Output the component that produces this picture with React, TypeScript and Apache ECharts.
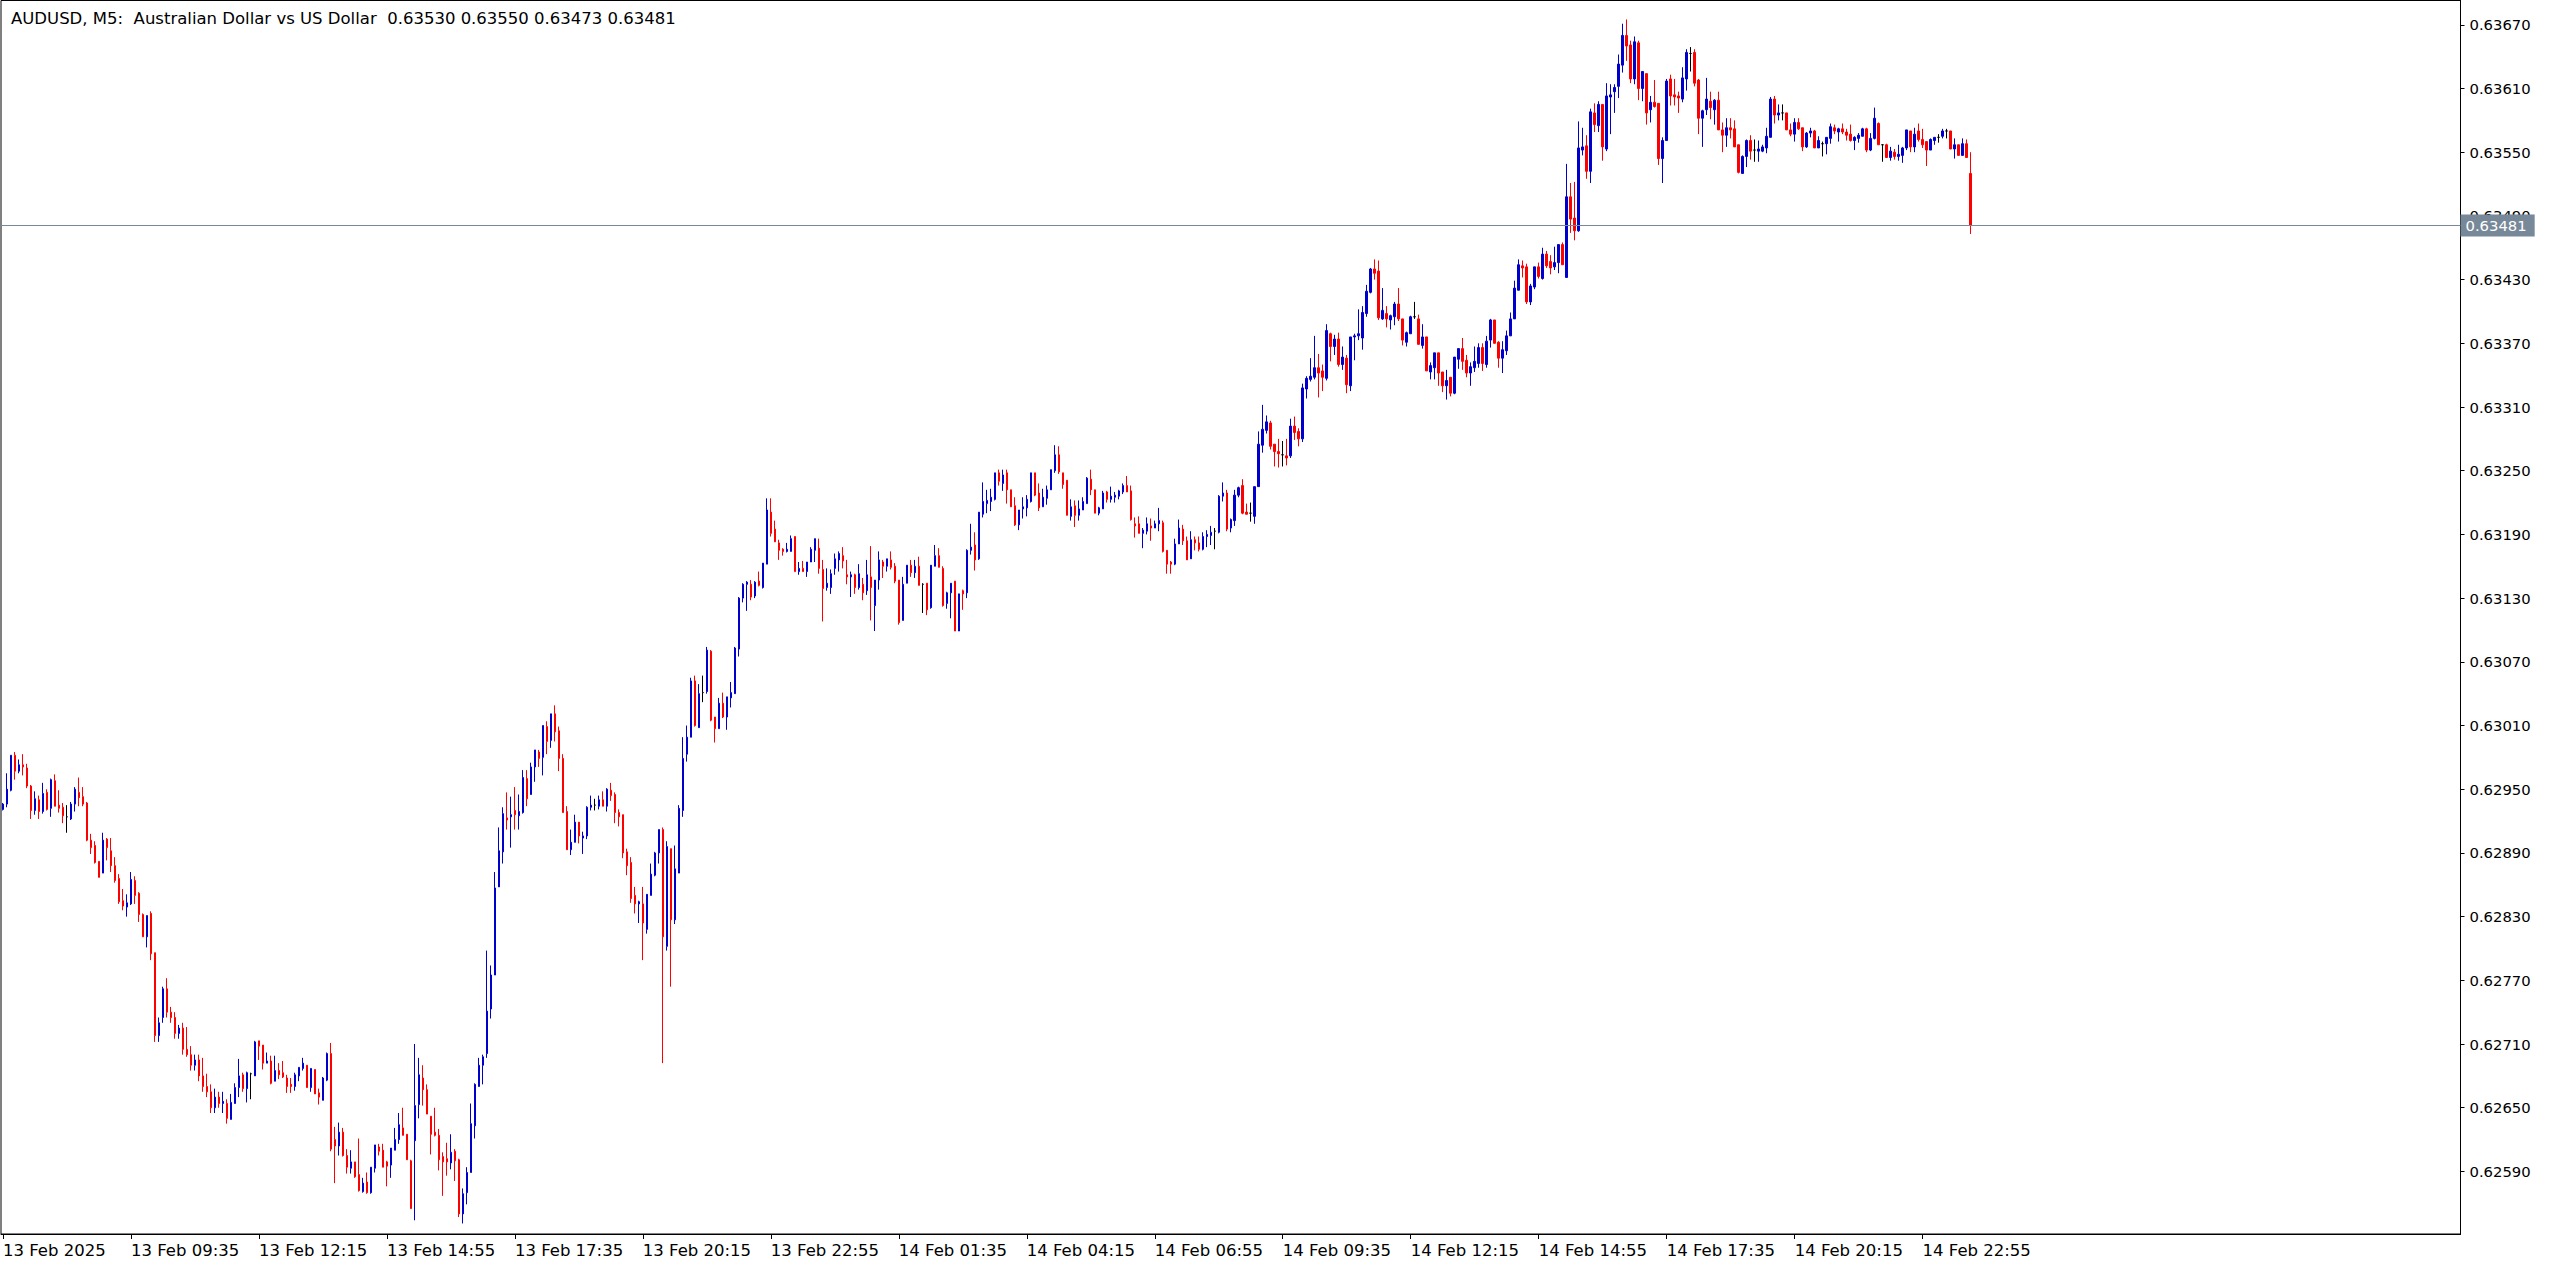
import React, { useEffect, useRef } from "react";
import * as echarts from "echarts";

// ---------- DATA ----------
const symbol = "AUDUSD";
const timeframe = "M5";
const description = "Australian Dollar vs US Dollar";
const POINT = 0.00001; // prices below are stored in points (1e-5)

const openPts = [
62931,62936,62949,62982,62967,62973,62970,62953,62930,62940,
62929,62947,62932,62958,62935,62933,62924,62922,62936,62947,
62943,62937,62902,62897,62882,62871,62903,62892,62878,62866,
62845,62839,62842,62864,62852,62832,62811,62833,
62796,62718,62735,62762,62740,62735,62720,62725,62705,62700,62690,62695,62680,62670,62665,62650,62660,
62654,62654,62639,62654,62669,
62681,62668,62682,62680,62713,62709,62692,62694,62675,62685,
62683,62678,62672,62670,62680,62687,62690,62669,62686,62664,
62657,62676,62701,62620,62614,62627,62605,62593,62599,62587,
62571,62580,62570,62593,62613,62610,62599,62596,62610,62620,
62631,62625,62600,62619,62653,62678,62667,62642,62627,62624,
62604,62602,
62598,62609,62601,62550,62570,62589,62633,62670,
62690,62701,62743,62775,62858,62891,62923,62924,62930,62925,
62928,62960,62945,62971,62985,62980,63009,62996,63021,63005,
62979,62929,62893,62900,62919,62904,62906,62933,62935,62934,
62940,62934,62949,62945,62928,62926,62891,62881,62850,62842,
62842,62818,62850,62869,62890,62912,62802,
62894,62827,62871,
62930,62983,62999,63052,63008,63041,63042,63080,63018,63007,
63031,63018,63036,63040,63082,63130,63143,63143,63132,63146,
63140,63162,63211,63195,63182,63176,63174,63174,63188,63155,
63158,63155,63164,63175,63177,63157,63140,63140,63158,63166,
63170,63152,63150,63152,63140,63143,63137,63150,63123,63147,
63164,63160,
63166,63160,63147,63109,63144,63161,63154,63160,
63143,63144,63121,63160,63170,63158,63125,63135,63146,63099,
63137,63135,63175,63180,63167,63209,63219,63221,63223,63248,
63238,63248,63232,63217,63199,63214,63215,63221,63248,63229,
63216,63224,63232,63250,63265,63248,63241,63207,63217,63208,
63213,63219,63242,63232,63210,63214,63230,
63223,63225,63226,
63230,63236,63231,63200,63200,63191,63193,63198,63196,63200,
63201,63175,63164,63162,63181,63195,63184,63167,63185,63182,
63176,63188,63189,63193,63192,63226,63229,63196,63203,63227,
63236,63211,63210,63207,63235,63274,63288,63295,63275,63268,
63265,63264,63264,63292,63287,63280,63327,63336,63338,63347,
63344,63337,
63379,63367,63374,63350,63356,63330,63376,63377,
63375,63398,63418,63440,63438,63393,63398,63392,63395,63407,
63393,63371,63379,63395,63393,63368,63376,63343,63347,63361,
63343,63330,63338,63323,63355,63365,63354,63342,63347,63351,
63366,63350,63373,63392,63371,63356,63363,63377,63393,63420,
63443,63442,63409,63423,63442,63431,63454,
63447,63442,63446,
63463,63432,63508,63488,63476,63552,63556,63532,63587,63575,
63595,63553,63602,63607,63612,63632,63660,63651,63619,63653,
63610,63624,63590,63597,63596,63544,63561,63619,63604,63603,
63600,63619,63643,63644,63618,63582,63590,63598,63590,63599,
63571,63566,63573,63572,63557,63530,63546,63561,63552,63551,
63551,63554,
63564,63600,63585,63587,63587,63571,63567,63578,
63573,63555,63568,63570,63554,63558,63558,63563,63573,63569,
63572,63569,63567,63561,63563,63565,63572,63552,63563,63577,
63557,63557,63545,63550,63546,63547,63554,63570,63555,63570,
63562,63560,63552,63561,63564,63565,63570,63570,63553,63557,
63547,63558,63530
];

const highPts = [
62937,62965,62982,62985,62978,62983,62974,62954,62948,62944,
62956,62950,62960,62964,62949,62937,62935,62938,62952,62961,
62952,62938,62908,62901,62882,62909,62904,62904,62886,62870,
62856,62851,62872,62868,62853,62833,62831,62835,
62796,62735,62764,62772,62745,62740,62728,62730,62726,62708,62700,62700,62697,62682,62672,62668,62665,
62665,62658,62663,62673,62696,
62683,62684,62683,62713,62713,62709,62702,62699,62699,62692,
62694,62681,62678,62683,62688,62697,62690,62687,62686,62668,
62679,62702,62711,62632,62636,62631,62611,62610,62599,62621,
62584,62589,62594,62615,62616,62616,62600,62612,62631,62645,
62650,62625,62601,62710,62697,62690,62672,62642,62650,62630,
62608,62617,
62625,62611,62602,62574,62594,62654,62673,62697,
62700,62798,62784,62872,62914,62933,62947,62943,62952,62945,
62968,62968,62975,62987,62987,63010,63014,63021,63029,63009,
62983,62934,62912,62926,62919,62910,62934,62944,62941,62944,
62948,62951,62956,62947,62931,62926,62894,62886,62858,62845,
62858,62851,62880,62891,62912,62914,62901,
62894,62897,62935,
62999,63010,63055,63057,63049,63057,63084,63081,63018,63036,
63041,63037,63051,63084,63131,63144,63146,63147,63146,63155,
63163,63224,63224,63203,63185,63177,63182,63189,63188,63164,
63165,63164,63178,63186,63186,63166,63158,63157,63172,63174,
63178,63166,63155,63153,63162,63149,63166,63179,63147,63174,
63166,63167,
63174,63163,63147,63150,63161,63166,63166,63169,
63144,63144,63161,63180,63177,63160,63136,63144,63146,63134,
63138,63176,63200,63192,63211,63239,63232,63233,63248,63251,
63251,63251,63232,63225,63213,63225,63227,63248,63248,63238,
63233,63236,63251,63274,63273,63248,63241,63223,63222,63222,
63225,63244,63251,63232,63216,63231,63231,
63235,63230,63232,
63238,63245,63236,63206,63207,63196,63206,63205,63203,63215,
63203,63175,63165,63186,63204,63199,63188,63193,63188,63188,
63192,63194,63198,63196,63227,63239,63232,63205,63232,63235,
63242,63219,63220,63235,63287,63312,63302,63297,63275,63280,
63278,63280,63299,63301,63290,63332,63339,63356,63377,63360,
63350,63388,
63380,63378,63380,63367,63359,63376,63379,63402,
63405,63425,63441,63449,63448,63422,63405,63397,63409,63422,
63393,63381,63396,63409,63397,63388,63376,63352,63361,63361,
63343,63345,63338,63357,63365,63375,63359,63352,63367,63370,
63370,63377,63393,63392,63372,63372,63382,63399,63429,63449,
63448,63445,63426,63442,63446,63460,63457,
63453,63461,63463,
63465,63539,63521,63522,63579,63573,63566,63591,63596,63598,
63595,63615,63614,63614,63642,63671,63675,63655,63659,63655,
63626,63624,63603,63618,63596,63564,63619,63623,63619,63607,
63630,63647,63649,63647,63619,63590,63620,63607,63600,63607,
63578,63582,63582,63580,63557,63547,63562,63566,63562,63561,
63557,63573,
63602,63603,63595,63595,63587,63577,63582,63582,
63573,63569,63573,63571,63565,63560,63564,63577,63576,63573,
63577,63572,63576,63565,63568,63573,63573,63568,63592,63578,
63557,63558,63555,63553,63557,63555,63571,63570,63573,63577,
63572,63560,63563,63564,63567,63572,63572,63570,63563,63557,
63563,63562,63550
];

const lowPts = [
62930,62933,62948,62959,62965,62963,62951,62922,62926,62922,
62927,62930,62924,62934,62928,62918,62909,62921,62929,62934,
62934,62901,62889,62880,62867,62871,62883,62872,62862,62842,
62836,62830,62841,62842,62825,62811,62801,62789,
62712,62712,62730,62735,62730,62715,62715,62700,62698,62685,62685,62675,62665,62660,62645,62645,62650,
62645,62635,62639,62654,62660,
62665,62655,62658,62680,62695,62686,62692,62672,62675,62677,
62678,62664,62664,62666,62675,62685,62669,62665,62663,62653,
62657,62675,62609,62579,62605,62604,62588,62588,62584,62571,
62570,62569,62569,62589,62605,62594,62576,62584,62610,62616,
62624,62601,62555,62544,62640,62652,62644,62606,62623,62591,
62567,62586,
62592,62581,62547,62541,62559,62589,62621,62670,
62672,62697,62734,62775,62858,62880,62912,62895,62912,62912,
62927,62934,62945,62957,62971,62963,62983,62989,62995,62967,
62928,62893,62888,62900,62899,62889,62903,62930,62930,62931,
62934,62929,62939,62918,62915,62885,62869,62843,62833,62824,
62789,62814,62850,62868,62880,62692,62798,
62764,62823,62871,
62924,62976,62999,63009,63008,63032,63040,63014,62994,63007,
63017,63006,63027,63040,63075,63126,63118,63128,63130,63141,
63139,63162,63188,63183,63166,63170,63173,63174,63155,63152,
63155,63150,63164,63164,63153,63108,63137,63134,63152,63155,
63158,63143,63131,63134,63138,63128,63133,63109,63099,63138,
63149,63155,
63157,63144,63105,63109,63144,63150,63149,63142,
63116,63114,63120,63160,63159,63122,63120,63111,63099,63099,
63119,63130,63171,63156,63166,63206,63210,63212,63222,63236,
63231,63219,63216,63198,63194,63205,63207,63220,63226,63212,
63216,63218,63232,63248,63247,63233,63208,63203,63197,63203,
63213,63219,63227,63210,63208,63214,63220,
63220,63220,63223,
63228,63230,63203,63187,63191,63177,63190,63184,63196,63193,
63173,63153,63153,63161,63181,63180,63166,63167,63175,63174,
63175,63178,63180,63176,63191,63221,63193,63192,63198,63225,
63209,63209,63202,63200,63235,63267,63285,63270,63254,63253,
63254,63255,63262,63279,63273,63277,63318,63334,63336,63319,
63325,63335,
63353,63359,63348,63345,63323,63325,63354,63373,
63364,63395,63417,63430,63392,63392,63385,63383,63387,63391,
63368,63367,63379,63393,63369,63365,63344,63336,63336,63330,
63324,63317,63320,63322,63346,63345,63338,63330,63343,63347,
63344,63347,63366,63370,63347,63342,63359,63377,63393,63420,
63432,63407,63406,63421,63431,63430,63441,
63435,63439,63436,
63444,63432,63474,63467,63475,63547,63525,63521,63569,63569,
63542,63551,63567,63587,63601,63625,63636,63615,63614,63599,
63598,63576,63578,63592,63538,63521,63561,63594,63594,63587,
63597,63608,63626,63612,63567,63555,63585,63581,63576,63571,
63550,63555,63563,63555,63530,63530,63536,63543,63541,63541,
63550,63549,
63564,63577,63580,63580,63571,63565,63560,63571,
63551,63554,63564,63554,63554,63546,63548,63558,63567,63560,
63567,63561,63560,63552,63559,63565,63550,63551,63562,63557,
63541,63545,63542,63543,63542,63540,63552,63550,63550,63560,
63554,63537,63552,63557,63559,63563,63563,63553,63544,63547,
63547,63545,63473
];

const closePts = [
62936,62950,62982,62967,62973,62971,62953,62930,62941,62929,
62946,62931,62959,62934,62932,62925,62924,62936,62950,62942,
62936,62902,62895,62881,62867,62902,62895,62878,62864,62844,
62840,62843,62865,62850,62832,62811,62831,62795,
62718,62730,62762,62740,62735,62720,62725,62705,62700,62690,62695,62680,62670,62665,62650,62660,62654,
62656,62640,62655,62669,62680,
62668,62683,62682,62712,62708,62692,62694,62673,62685,62681,
62679,62670,62670,62681,62688,62692,62669,62687,62663,62660,
62678,62701,62611,62614,62627,62605,62594,62599,62585,62572,
62579,62570,62594,62615,62609,62594,62595,62612,62620,62634,
62624,62601,62555,62652,62681,62667,62644,62625,62624,62601,
62599,62599,
62608,62600,62550,62569,62589,62635,62672,62690,
62698,62741,62775,62857,62892,62927,62921,62926,62926,62929,
62961,62941,62971,62987,62979,63010,62995,63021,63004,62979,
62928,62893,62900,62919,62906,62906,62933,62935,62935,62940,
62934,62950,62944,62928,62924,62890,62878,62847,62842,62844,
62824,62851,62870,62890,62912,62811,62896,
62827,62875,62932,
62979,62999,63052,63010,63040,63041,63081,63015,63007,63031,
63018,63037,63041,63083,63130,63143,63145,63131,63145,63142,
63163,63213,63191,63183,63175,63174,63176,63186,63155,63158,
63155,63164,63176,63186,63158,63139,63144,63153,63167,63172,
63165,63150,63152,63140,63153,63135,63152,63140,63147,63166,
63160,63167,
63159,63146,63107,63143,63161,63154,63160,63142,
63143,63119,63161,63170,63159,63123,63135,63144,63099,63134,
63134,63175,63178,63166,63211,63221,63222,63225,63248,63240,
63246,63232,63216,63199,63213,63216,63223,63248,63227,63215,
63225,63232,63251,63265,63249,63237,63208,63216,63208,63214,
63221,63243,63232,63210,63215,63229,63223,
63226,63227,63231,
63236,63230,63204,63198,63191,63194,63200,63196,63200,63203,
63174,63162,63162,63181,63196,63184,63166,63185,63182,63176,
63188,63190,63192,63193,63226,63229,63195,63204,63227,63234,
63210,63209,63210,63235,63275,63289,63296,63273,63268,63266,
63265,63262,63292,63286,63280,63328,63337,63339,63347,63342,
63338,63382,
63367,63374,63350,63357,63331,63376,63377,63379,
63399,63419,63440,63436,63394,63401,63393,63396,63407,63393,
63373,63380,63395,63395,63369,63376,63344,63349,63361,63342,
63330,63335,63323,63357,63365,63353,63342,63348,63353,63366,
63351,63372,63392,63370,63356,63364,63377,63393,63422,63444,
63441,63409,63424,63442,63433,63454,63443,
63441,63446,63463,
63444,63508,63487,63476,63554,63555,63532,63588,63576,63595,
63555,63603,63604,63611,63633,63660,63650,63619,63654,63610,
63626,63587,63597,63593,63544,63561,63617,63603,63602,63601,
63620,63644,63643,63615,63582,63589,63600,63592,63599,63571,
63566,63573,63571,63555,63531,63546,63561,63551,63552,63553,
63555,63565,
63600,63585,63587,63587,63571,63567,63578,63572,
63555,63568,63570,63554,63561,63558,63564,63574,63570,63572,
63569,63566,63561,63564,63566,63572,63552,63563,63582,63557,
63557,63545,63551,63546,63548,63554,63571,63555,63567,63562,
63557,63552,63562,63564,63564,63570,63570,63553,63557,63547,
63558,63545,63481
];

const priceTicks = [
  0.6259, 0.6265, 0.6271, 0.6277, 0.6283, 0.6289, 0.6295, 0.6301, 0.6307,
  0.6313, 0.6319, 0.6325, 0.6331, 0.6337, 0.6343, 0.6349, 0.6355, 0.6361, 0.6367,
];

const timeTickLabels = [
  "13 Feb 2025", "13 Feb 09:35", "13 Feb 12:15", "13 Feb 14:55", "13 Feb 17:35",
  "13 Feb 20:15", "13 Feb 22:55", "14 Feb 01:35", "14 Feb 04:15", "14 Feb 06:55",
  "14 Feb 09:35", "14 Feb 12:15", "14 Feb 14:55", "14 Feb 17:35", "14 Feb 20:15",
  "14 Feb 22:55",
];
const barsPerTimeTick = 32;
const totalSlots = 615; // bar slots visible across the chart (incl. empty right margin)

// ---------- LAYOUT ----------
const W = 2556;
const H = 1270;
const GRID_LEFT = 0.5;
const GRID_RIGHT = 95.5;
const GRID_TOP = 0.5;
const GRID_BOTTOM = 36;
const Y_MIN = 0.6253107;
const Y_MAX = 0.6369288;
const FONT = "'DejaVu Sans', Verdana, sans-serif";
const BULL = "#0000cd";
const BEAR = "#ff0000";
const BID_LINE = "#778899";

const toPrice = (p: number) => +(p * POINT).toFixed(5);

export default function App() {
  const ref = useRef<HTMLDivElement>(null);

  useEffect(() => {
    if (!ref.current) return;
    const chart = echarts.init(ref.current, null, { renderer: "svg" });
    const n = openPts.length;
    const data = openPts.map((o, i) => [
      toPrice(o),
      toPrice(closePts[i]),
      toPrice(lowPts[i]),
      toPrice(highPts[i]),
    ]);
    const categories = Array.from({ length: totalSlots }, (_, i) => String(i));
    const last = n - 1;
    const lastClose = toPrice(closePts[last]);
    const titleText =
      `${symbol}, ${timeframe}:  ${description}  ` +
      [openPts[last], highPts[last], lowPts[last], closePts[last]]
        .map((v) => toPrice(v).toFixed(5))
        .join(" ");

    const showTick = (i: number) =>
      i % barsPerTimeTick === 0 && i / barsPerTimeTick < timeTickLabels.length;

    chart.setOption({
      animation: false,
      backgroundColor: "#ffffff",
      title: {
        text: titleText,
        left: 6,
        top: 5,
        textStyle: { fontFamily: FONT, fontSize: 16.5, fontWeight: "normal", color: "#000" },
      },
      grid: {
        left: GRID_LEFT,
        right: GRID_RIGHT,
        top: GRID_TOP,
        bottom: GRID_BOTTOM,
        show: true,
        borderColor: "#000",
        borderWidth: 1,
        backgroundColor: "transparent",
      },
      xAxis: {
        type: "category",
        data: categories,
        boundaryGap: true,
        axisLine: { show: true, lineStyle: { color: "#000", width: 1 } },
        axisTick: {
          show: true,
          alignWithLabel: true,
          interval: (i: number) => showTick(i),
          length: 5,
          lineStyle: { color: "#000" },
        },
        axisLabel: {
          interval: (i: number) => showTick(i),
          formatter: (_v: string, i: number) => timeTickLabels[i / barsPerTimeTick] ?? "",
          align: "left",
          margin: 8,
          color: "#000",
          fontFamily: FONT,
          fontSize: 16.5,
        },
        splitLine: { show: false },
      },
      yAxis: {
        type: "value",
        position: "right",
        min: Y_MIN,
        max: Y_MAX,
        axisLine: { show: true, lineStyle: { color: "#000", width: 1 } },
        axisTick: { show: true, customValues: priceTicks, length: 4, lineStyle: { color: "#000" } },
        axisLabel: {
          customValues: priceTicks,
          formatter: (v: number) => v.toFixed(5),
          color: "#000",
          fontFamily: FONT,
          fontSize: 14.8,
          margin: 9,
        },
        splitLine: { show: false },
      },
      series: [
        {
          type: "candlestick",
          data,
          barWidth: 2,
          large: false,
          z: 3,
          itemStyle: {
            color: BULL,
            color0: BEAR,
            borderColor: BULL,
            borderColor0: BEAR,
            borderColorDoji: "#000000",
            borderWidth: 1,
          },
        },
        {
          // current (last) price line and its label on the price scale
          type: "line",
          data: [],
          silent: true,
          z: 2,
          markLine: {
            symbol: "none",
            silent: true,
            animation: false,
            precision: 5,
            z: 10,
            data: [{ yAxis: lastClose }],
            lineStyle: { color: BID_LINE, width: 1, type: "solid" },
            label: {
              show: true,
              position: "end",
              formatter: lastClose.toFixed(5),
              color: "#ffffff",
              backgroundColor: BID_LINE,
              padding: [4, 8, 3, 5],
              fontFamily: FONT,
              fontSize: 14.8,
              distance: 0,
            },
          },
        },
      ],
    });

    return () => chart.dispose();
  }, []);

  return (
    <div
      ref={ref}
      style={{ position: "fixed", left: 0, top: 0, width: W, height: H, background: "#fff" }}
    />
  );
}
